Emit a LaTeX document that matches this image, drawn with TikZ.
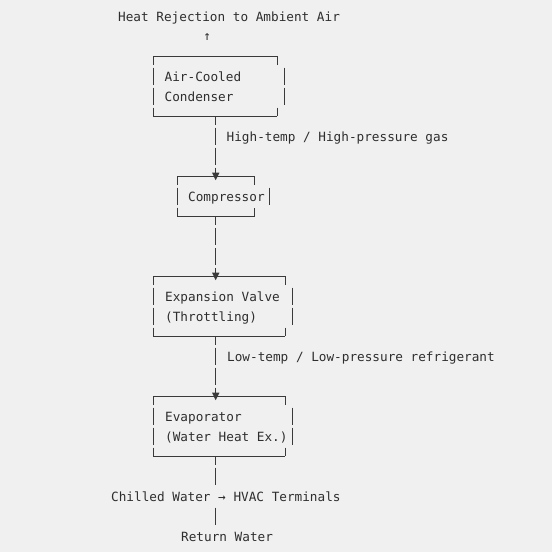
\documentclass[tikz,border=0pt]{standalone}
\usepackage{fontspec}
\setmonofont{DejaVu Sans Mono}
\usetikzlibrary{calc}
\definecolor{bg}{HTML}{F0F0F0}
\definecolor{ink}{HTML}{2E2E2E}
\definecolor{wire}{HTML}{3A3A3A}
\tikzset{
  txt/.style={anchor=base west, inner sep=0pt, text=ink, font=\fontsize{12.7}{14}\ttfamily},
  boxline/.style={draw=wire, line width=0.8pt},
  rowdash/.style={dash pattern=on 17pt off 3pt, dash phase=8.5pt},
  pipe/.style={draw=wire, line width=0.8pt, dash pattern=on 17pt off 3pt, dash phase=8.5pt},
}
\newcommand\asciibox[6]{%
  \draw[boxline] (#1,#4) -- (#2,#4);
  \draw[boxline] (#1,#5) -- (#2,#5);
  \draw[boxline,rowdash] (#1,#4) -- (#1,#5);
  \draw[boxline] (#2,#4) -- (#2,#4+8.5);
  \draw[boxline] (#2,#5-8.5) -- (#2,#5);
  \foreach \r in {#6} \draw[boxline] (#3,\r-8.5) -- (#3,\r+8.5);
}
\newcommand\downtip[1]{%
  \fill[wire] ($(#1)+(-3.7,-3.3)$) -- ($(#1)+(3.7,-3.3)$) -- ($(#1)+(0,4.2)$) -- cycle;
}
\begin{document}
\begin{tikzpicture}[x=1pt,y=-1pt]
  \fill[bg] (0,0) rectangle (552,552);
  \useasboundingbox (0,0) rectangle (552,552);

  % texts
  \node[txt] (heat) at (118,21) {Heat Rejection to Ambient Air};
  \node[txt, anchor=base] (up) at (207.3,40.5) {↑};

  % condenser box
  \asciibox{153}{277}{284.5}{56}{116}{76,96}
  \node[txt] (cond1) at (164.5,81) {Air-Cooled};
  \node[txt] (cond2) at (164.5,101) {Condenser};
  \coordinate (condB) at (215.7,116);

  % compressor
  \asciibox{177}{254.3}{269.3}{176}{216.5}{196}
  \node[txt] (comp) at (188,201) {Compressor};
  \coordinate (compT) at (215.7,176);
  \coordinate (compB) at (215.7,216.5);

  % expansion valve
  \asciibox{153}{285}{292}{276}{336}{296,316}
  \node[txt] (exp1) at (165,301) {Expansion Valve};
  \node[txt] (exp2) at (165,321) {(Throttling)};
  \coordinate (expT) at (215.7,276);
  \coordinate (expB) at (215.7,336);

  % evaporator
  \asciibox{153}{285}{292.5}{396}{456}{416,436}
  \node[txt] (evap1) at (165,421) {Evaporator};
  \node[txt] (evap2) at (165,441) {(Water Heat Ex.)};
  \coordinate (evapT) at (215.7,396);
  \coordinate (evapB) at (215.7,456);

  % labels
  \node[txt] (hp) at (226.5,141) {High-temp / High-pressure gas};
  \node[txt] (lp) at (227,361) {Low-temp / Low-pressure refrigerant};
  \node[txt] (cw) at (111,501) {Chilled Water → HVAC Terminals};
  \node[txt] (ret) at (181,541) {Return Water};
  \coordinate (cwA) at (215.7,484.5);
  \coordinate (cwB) at (215.7,507.5);
  \coordinate (cwC) at (215.7,524.5);

  % connectors
  \draw[pipe] (condB) -- (compT);
  \draw[pipe] (compB) -- (expT);
  \draw[pipe] (expB) -- (evapT);
  \draw[pipe] (evapB) -- (cwA);
  \draw[boxline] (cwB) -- (cwC);
  \downtip{compT}
  \downtip{expT}
  \downtip{evapT}
\end{tikzpicture}
\end{document}
